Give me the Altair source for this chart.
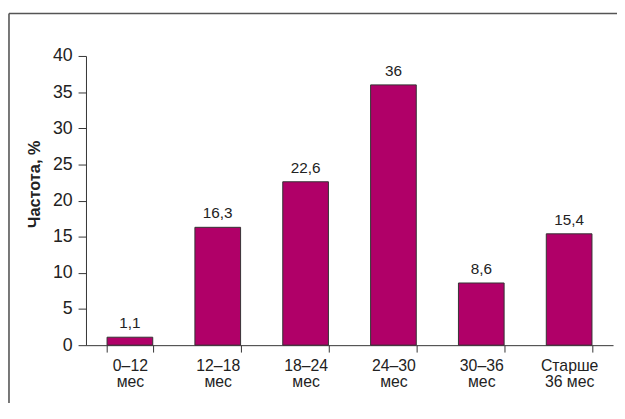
import altair as alt
import pandas as pd

categories = ["0–12 мес", "12–18 мес", "18–24 мес", "24–30 мес", "30–36 мес", "Старше 36 мес"]
values = [1.1, 16.3, 22.6, 36, 8.6, 15.4]
value_labels = ["1,1", "16,3", "22,6", "36", "8,6", "15,4"]
y_ticks = [0, 5, 10, 15, 20, 25, 30, 35, 40]

df = pd.DataFrame({"cat": categories, "val": values, "lab": value_labels})

FONT = "Liberation Sans"
BAR = "#B00068"

x_axis = alt.Axis(
    labelAngle=0, tickBand="extent", tickSize=7, labelPadding=6,
    labelFontSize=16, labelLineHeight=16, labelColor="#222", labelFont=FONT,
    domainColor="#333", tickColor="#333", labelOverlap=False,
    labelExpr="[substring(datum.label, 0, indexof(datum.label, ' ')), substring(datum.label, indexof(datum.label, ' ') + 1)]",
)
y_axis = alt.Axis(
    values=y_ticks, grid=False, tickSize=8, labelPadding=6,
    labelFontSize=18, labelColor="#222", labelFont=FONT, labelOverlap=False,
    domainColor="#333", tickColor="#333",
    title="Частота, %", titleFont=FONT, titleFontSize=16.5, titleFontWeight="bold",
    titleColor="#222", titleAngle=270, titleX=-52, titleY=129.5,
    titleAlign="center", titleBaseline="middle",
)

base = alt.Chart(df).encode(
    x=alt.X("cat:N", sort=categories, title=None,
            scale=alt.Scale(paddingInner=0.48, paddingOuter=0.24), axis=x_axis),
    y=alt.Y("val:Q", scale=alt.Scale(domain=[0, 40], nice=False), axis=y_axis),
)

bars = base.mark_bar(color=BAR, stroke="#333", strokeWidth=1)
texts = base.mark_text(
    dy=-9, baseline="alphabetic", fontSize=15.5, font=FONT, color="#222"
).encode(text="lab:N")

frame = alt.Data(values=[{}])
top_rule = alt.Chart(frame).mark_rule(color="#555", strokeWidth=1.6).encode(
    x=alt.value(-78), x2=alt.value(560), y=alt.value(-43)
)
left_rule = alt.Chart(frame).mark_rule(color="#555", strokeWidth=1.6).encode(
    x=alt.value(-78), y=alt.value(-43), y2=alt.value(400)
)

chart = alt.layer(bars, texts, top_rule, left_rule).properties(
    width=534, height=293,
    autosize=alt.AutoSizeParams(type="none"),
    padding={"left": 79, "top": 46, "right": 4, "bottom": 56},
).configure_view(stroke=None)

chart.save("out.html", embed_options={"renderer": "svg", "actions": False})
